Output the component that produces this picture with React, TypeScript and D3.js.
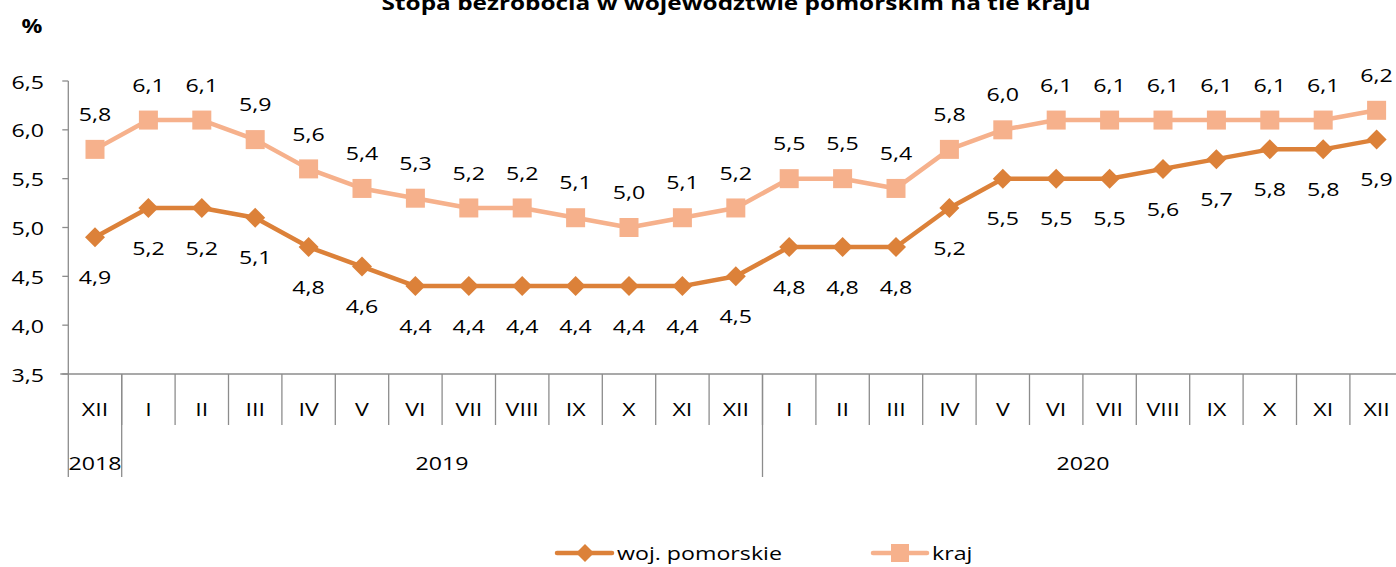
import React from "react";
import * as d3 from "d3";

const months = ["XII","I","II","III","IV","V","VI","VII","VIII","IX","X","XI","XII","I","II","III","IV","V","VI","VII","VIII","IX","X","XI","XII"];
const years = [
  { label: "2018", start: 0, count: 1 },
  { label: "2019", start: 1, count: 12 },
  { label: "2020", start: 13, count: 12 },
];
const pomorskie = [4.9,5.2,5.2,5.1,4.8,4.6,4.4,4.4,4.4,4.4,4.4,4.4,4.5,4.8,4.8,4.8,5.2,5.5,5.5,5.5,5.6,5.7,5.8,5.8,5.9];
const kraj = [5.8,6.1,6.1,5.9,5.6,5.4,5.3,5.2,5.2,5.1,5.0,5.1,5.2,5.5,5.5,5.4,5.8,6.0,6.1,6.1,6.1,6.1,6.1,6.1,6.2];
const yTicks = [3.5,4.0,4.5,5.0,5.5,6.0,6.5];

const W = 1396, H = 567;
const C_POM = "#DC8139";
const C_KRAJ = "#F6B18C";
const AXIS = "#8c8c8c";
const FONT = "'Open Sans', sans-serif";
const SX = 1.22;
const FS = 19;

const fmt = (v: number) => v.toFixed(1).replace(".", ",");

function T({ x, y, children, anchor = "middle", bold = false, size = FS }: any) {
  return (
    <text
      transform={`translate(${x},${y}) scale(${SX},1)`}
      textAnchor={anchor}
      dominantBaseline="central"
      fontFamily={FONT}
      fontSize={size}
      fontWeight={bold ? 700 : 400}
      fill="#000"
    >
      {children}
    </text>
  );
}

export default function App() {
  const left = 68.3;
  const step = 53.4;
  const x = d3.scaleBand<number>().domain(d3.range(months.length)).range([left, left + step * months.length]).paddingInner(0).paddingOuter(0);
  const y = d3.scaleLinear().domain([3.5, 6.5]).range([374, 81]);
  const cx = (i: number) => (x(i) as number) + x.bandwidth() / 2;
  const line = d3.line<number>().x((_, i) => cx(i)).y((d) => y(d));
  const xAxisY = y(3.5);

  const diamond = (px: number, py: number, r = 10) =>
    `M${px},${py - r}L${px + r},${py}L${px},${py + r}L${px - r},${py}Z`;

  return (
    <svg width={W} height={H} style={{ position: "absolute", left: 0, top: 0 }}>
      <rect width={W} height={H} fill="#fff" />
      <T x={736} y={2} bold size={20}>Stopa bezrobocia w województwie pomorskim na tle kraju</T>
      <T x={32} y={25} bold>%</T>

      {/* y axis */}
      <line x1={left} x2={left} y1={y(6.5)} y2={477} stroke={AXIS} strokeWidth={1.3} />
      {yTicks.map((t) => (
        <g key={t}>
          <line x1={left - 6} x2={left} y1={y(t)} y2={y(t)} stroke={AXIS} strokeWidth={1.3} />
          <T x={44} y={y(t)} anchor="end">{fmt(t)}</T>
        </g>
      ))}

      {/* x axis */}
      <line x1={left - 8} x2={W} y1={xAxisY} y2={xAxisY} stroke={AXIS} strokeWidth={1.3} />
      {months.map((m, i) => (
        <g key={i}>
          {i > 0 && <line x1={x(i)} x2={x(i)} y1={xAxisY} y2={425} stroke={AXIS} strokeWidth={1.3} />}
          <T x={cx(i)} y={408}>{m}</T>
        </g>
      ))}
      {years.map((yr) => {
        const xs = x(yr.start) as number;
        const xe = xs + step * yr.count;
        return (
          <g key={yr.label}>
            {yr.start > 0 && <line x1={xs} x2={xs} y1={xAxisY} y2={477} stroke={AXIS} strokeWidth={1.3} />}
            <T x={(xs + xe) / 2} y={462}>{yr.label}</T>
          </g>
        );
      })}

      {/* kraj series */}
      <path d={line(kraj) || ""} fill="none" stroke={C_KRAJ} strokeWidth={4.5} strokeLinejoin="round" />
      {kraj.map((v, i) => (
        <rect key={i} x={cx(i) - 9.5} y={y(v) - 9.5} width={19} height={19} fill={C_KRAJ} />
      ))}
      {kraj.map((v, i) => (
        <T key={i} x={cx(i)} y={y(v) - 36}>{fmt(v)}</T>
      ))}

      {/* pomorskie series */}
      <path d={line(pomorskie) || ""} fill="none" stroke={C_POM} strokeWidth={4.5} strokeLinejoin="round" />
      {pomorskie.map((v, i) => (
        <path key={i} d={diamond(cx(i), y(v), 10)} fill={C_POM} />
      ))}
      {pomorskie.map((v, i) => (
        <T key={i} x={cx(i)} y={y(v) + 39}>{fmt(v)}</T>
      ))}

      {/* legend */}
      <line x1={557} x2={612} y1={553} y2={553} stroke={C_POM} strokeWidth={4.5} strokeLinecap="round" />
      <path d={diamond(585, 553, 9)} fill={C_POM} />
      <T x={617} y={552} anchor="start">woj. pomorskie</T>
      <line x1={873} x2={927} y1={553} y2={553} stroke={C_KRAJ} strokeWidth={4.5} strokeLinecap="round" />
      <rect x={891} y={544} width={18} height={18} fill={C_KRAJ} />
      <T x={932} y={552} anchor="start">kraj</T>
    </svg>
  );
}
